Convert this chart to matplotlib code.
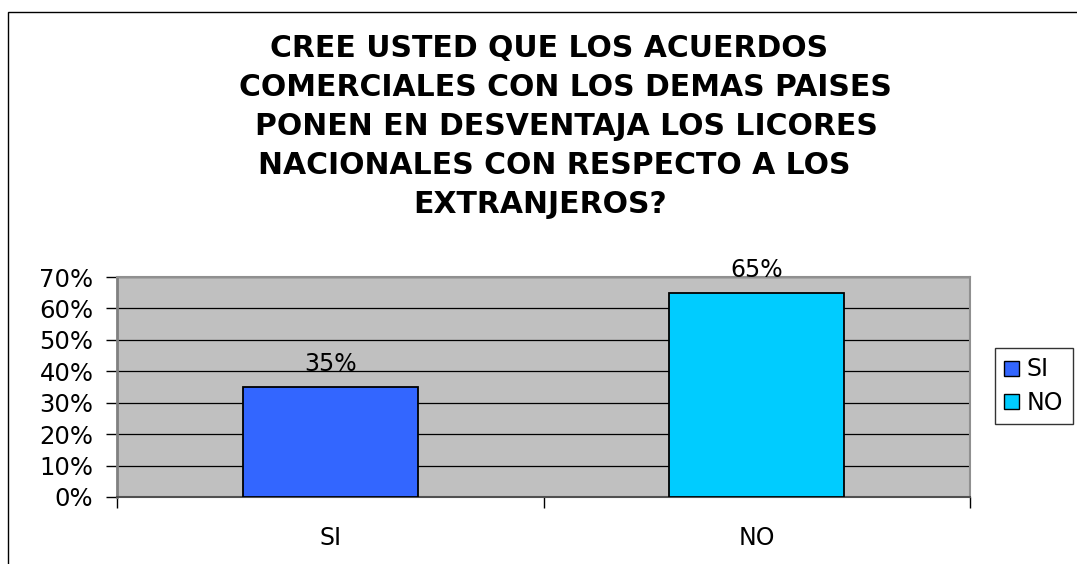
import matplotlib
matplotlib.use("Agg")
import matplotlib.pyplot as plt
from matplotlib.patches import Rectangle, Patch
from matplotlib.ticker import PercentFormatter

categories = ["SI", "NO"]
values = [0.35, 0.65]
colors = ["#3366FF", "#00CCFF"]
title_lines = [
    "CREE USTED QUE LOS ACUERDOS",
    "COMERCIALES CON LOS DEMAS PAISES",
    "PONEN EN DESVENTAJA LOS LICORES",
    "NACIONALES CON RESPECTO A LOS",
    "EXTRANJEROS?",
]
yticks = [0, 0.1, 0.2, 0.3, 0.4, 0.5, 0.6, 0.7]

W, H = 1077, 564
fig = plt.figure(figsize=(W / 100, H / 100), dpi=100)
fig.patch.set_facecolor("white")

# outer chart border (extends past right/bottom edge)
fig.add_artist(Rectangle((8 / W, -0.1), 2.0, 1 - 12 / H + 0.1,
                         transform=fig.transFigure, fill=False,
                         edgecolor="black", linewidth=1.0))

ax = fig.add_axes([117 / W, 1 - 497 / H, (970 - 117) / W, (497 - 277) / H])
ax.set_facecolor("#C0C0C0")

x = list(range(len(categories)))
bars = ax.bar(x, values, width=0.41, color=colors, edgecolor="black",
              linewidth=1.3, zorder=3)
for xi, v in zip(x, values):
    ax.annotate(f"{round(v * 100)}%", (xi, v), xytext=(0, 8),
                textcoords="offset points", ha="center", va="bottom",
                fontsize=17, color="black", annotation_clip=False)

ax.set_xlim(-0.5, len(categories) - 0.5)
ax.set_ylim(0, 0.7)
ax.set_yticks(yticks)
ax.yaxis.set_major_formatter(PercentFormatter(1.0, decimals=0))
ax.grid(axis="y", color="black", linewidth=0.9, zorder=1)
ax.set_axisbelow(True)

ax.set_xticks(x)
ax.set_xticklabels(categories)
ax.set_xticks([-0.5, 0.5, 1.5], minor=True)
ax.tick_params(axis="x", which="major", length=0, pad=21, labelsize=17)
ax.tick_params(axis="x", which="minor", length=8, width=1, color="black",
               direction="out")
ax.tick_params(axis="y", length=8, width=1, color="black", pad=9,
               labelsize=17.5)

for s in ["top", "right"]:
    ax.spines[s].set_color("#909090")
    ax.spines[s].set_linewidth(1.5)
ax.spines["left"].set_color("#808080")
ax.spines["left"].set_linewidth(2)
ax.spines["bottom"].set_color("#505050")
ax.spines["bottom"].set_linewidth(1.5)

# title, one line at a time (each line centred as in the original wrap)
line_cx = [549, 565, 566, 554, 540]
line_base = [57, 96, 135, 174, 213]
for txt, cx, by in zip(title_lines, line_cx, line_base):
    fig.text(cx / W, 1 - by / H, txt, ha="center", va="baseline",
             fontsize=21.5, fontweight="bold")

handles = [Patch(facecolor=c, edgecolor="black", linewidth=1) for c in colors]
leg = fig.legend(handles, categories, loc="upper left",
                 bbox_to_anchor=(995 / W, 1 - 348 / H), frameon=True,
                 fancybox=False, shadow=False, fontsize=17,
                 handlelength=0.6, handleheight=0.6, handletextpad=0.35,
                 borderpad=0.4, labelspacing=0.4, borderaxespad=0)
leg.get_frame().set_edgecolor("black")
leg.get_frame().set_linewidth(1.0)

fig.savefig("out.png", dpi=100)
